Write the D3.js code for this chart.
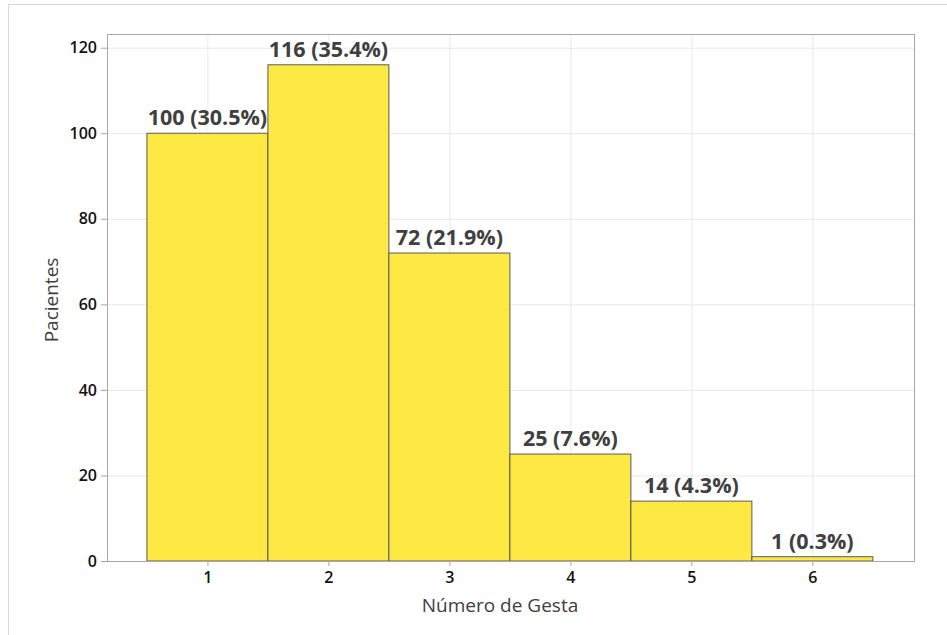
<!DOCTYPE html>
<html>
<head>
<meta charset="utf-8">
<script src="https://cdn.jsdelivr.net/npm/d3@7"></script>
<style>
  body { margin: 0; background: #fff; }
  svg { display: block; font-family: "Open Sans", "Noto Sans", sans-serif; }
</style>
</head>
<body>
<div id="chart"></div>
<script>
const gestas = [1, 2, 3, 4, 5, 6];
const pacientes = [100, 116, 72, 25, 14, 1];
const percentLabels = ["30.5%", "35.4%", "21.9%", "7.6%", "4.3%", "0.3%"];
const yTicks = [0, 20, 40, 60, 80, 100, 120];

const width = 947, height = 635;
const margin = { top: 34, right: 33, bottom: 74, left: 107 };
const innerW = width - margin.left - margin.right;
const innerH = height - margin.top - margin.bottom;

const svg = d3.select("#chart").append("svg")
    .attr("width", width)
    .attr("height", height);

// outer panel border
svg.append("rect")
    .attr("x", 8.5).attr("y", 4.5)
    .attr("width", width).attr("height", height)
    .attr("fill", "none")
    .attr("stroke", "#d9d9d9");

const g = svg.append("g")
    .attr("transform", `translate(${margin.left}, ${margin.top})`);

const xScale = d3.scaleLinear()
    .domain([0.17, 6.84])
    .range([0, innerW]);

const yScale = d3.scaleLinear()
    .domain([0, 123.2])
    .range([innerH, 0]);

// grid
g.append("g")
    .selectAll("line")
    .data(yTicks)
    .enter().append("line")
    .attr("x1", 0).attr("x2", innerW)
    .attr("y1", d => yScale(d) + 0.5).attr("y2", d => yScale(d) + 0.5)
    .attr("stroke", "#e8e8e8");

g.append("g")
    .selectAll("line")
    .data(gestas)
    .enter().append("line")
    .attr("x1", d => xScale(d) + 0.5).attr("x2", d => xScale(d) + 0.5)
    .attr("y1", 0).attr("y2", innerH)
    .attr("stroke", "#e8e8e8");

// bars
const data = gestas.map((k, i) => ({ k, v: pacientes[i], p: percentLabels[i] }));

g.append("g")
    .selectAll("rect")
    .data(data)
    .enter().append("rect")
    .attr("x", d => xScale(d.k - 0.5))
    .attr("y", d => yScale(d.v))
    .attr("width", d => xScale(d.k + 0.5) - xScale(d.k - 0.5))
    .attr("height", d => innerH - yScale(d.v))
    .attr("fill", "#fee944")
    .attr("stroke", "#5a5a5a")
    .attr("stroke-width", 1);

// bar labels
g.append("g")
    .selectAll("text")
    .data(data)
    .enter().append("text")
    .attr("x", d => xScale(d.k))
    .attr("y", d => yScale(d.v) - 8)
    .attr("text-anchor", "middle")
    .attr("fill", "#404040")
    .style("font-size", "21.5px")
    .style("font-weight", "bold")
    .text(d => `${d.v} (${d.p})`);

// frame
g.append("rect")
    .attr("x", 0.5).attr("y", 0.5)
    .attr("width", innerW).attr("height", innerH)
    .attr("fill", "none")
    .attr("stroke", "#a8a8a8");

// axes
const xAxis = g.append("g")
    .attr("transform", `translate(0, ${innerH})`)
    .call(d3.axisBottom(xScale).tickValues(gestas).tickFormat(d3.format("d")).tickSize(5).tickPadding(6));

const yAxis = g.append("g")
    .call(d3.axisLeft(yScale).tickValues(yTicks).tickSize(6).tickPadding(4));

[xAxis, yAxis].forEach(ax => {
    ax.select(".domain").remove();
    ax.selectAll(".tick line").attr("stroke", "#a8a8a8");
    ax.selectAll(".tick text")
        .attr("fill", "#111")
        .style("font-size", "16px")
        .style("font-weight", "600")
        .style("font-family", "'Open Sans', 'Noto Sans', sans-serif");
});

// axis titles
svg.append("text")
    .attr("x", 500)
    .attr("y", 612)
    .attr("text-anchor", "middle")
    .attr("fill", "#404040")
    .style("font-size", "19px")
    .text("Número de Gesta");

svg.append("text")
    .attr("transform", `translate(58, 300) rotate(-90)`)
    .attr("text-anchor", "middle")
    .attr("fill", "#404040")
    .style("font-size", "19px")
    .text("Pacientes");
</script>
</body>
</html>
